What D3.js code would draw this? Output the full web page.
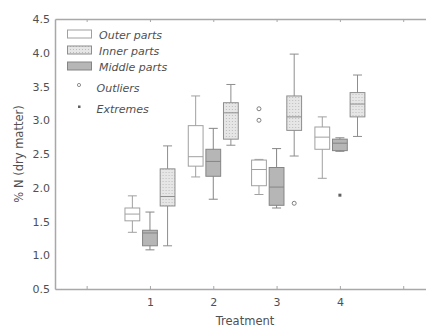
<!DOCTYPE html>
<html>
<head>
<meta charset="utf-8">
<script src="https://cdn.jsdelivr.net/npm/d3@7"></script>
<style>
  body { margin: 0; background: #fff; }
  svg { font-family: "DejaVu Sans", sans-serif; }
</style>
</head>
<body>
<div id="chart"></div>
<script>
// treatments and series
var treatments = [1, 2, 3, 4];
var seriesNames = ["Outer parts", "Middle parts", "Inner parts"];

// box stats per treatment: [whisker low, q1, median, q3, whisker high]
var outerStats = [
    [1.34, 1.51, 1.61, 1.70, 1.88],
    [2.16, 2.32, 2.46, 2.92, 3.36],
    [1.90, 2.03, 2.27, 2.41, 2.42],
    [2.14, 2.57, 2.75, 2.90, 3.05]
];
var middleStats = [
    [1.08, 1.14, 1.33, 1.37, 1.64],
    [1.83, 2.17, 2.39, 2.57, 2.88],
    [1.70, 1.74, 2.01, 2.30, 2.58],
    [2.54, 2.55, 2.66, 2.72, 2.74]
];
var innerStats = [
    [1.14, 1.73, 1.87, 2.28, 2.62],
    [2.63, 2.72, 3.11, 3.26, 3.53],
    [2.47, 2.85, 3.05, 3.36, 3.98],
    [2.76, 3.05, 3.24, 3.41, 3.67]
];

// outliers (open circles) and extremes (filled squares): [treatment, series, value]
var outliers = [[3, "Outer parts", 3.17], [3, "Outer parts", 3.00], [3, "Inner parts", 1.77]];
var extremes = [[4, "Middle parts", 1.89]];

var yTicks = [0.5, 1.0, 1.5, 2.0, 2.5, 3.0, 3.5, 4.0, 4.5];
var xTicks = [0, 1, 2, 3, 4, 5];

var width = 426, height = 328;
var svg = d3.select("#chart").append("svg")
    .attr("width", width)
    .attr("height", height);

var defs = svg.append("defs");
var pat = defs.append("pattern")
    .attr("id", "dots")
    .attr("width", 3).attr("height", 3)
    .attr("patternUnits", "userSpaceOnUse");
pat.append("rect").attr("width", 3).attr("height", 3).attr("fill", "#e6e6e6");
pat.append("rect").attr("x", 1).attr("y", 1).attr("width", 1).attr("height", 1).attr("fill", "#bcbcbc");

var x = d3.scaleLinear().domain([-0.5, 5.36]).range([55, 426]);
var y = d3.scaleLinear().domain([0.5, 4.5]).range([289, 19]);
var sub = d3.scaleBand().domain(seriesNames).range([-25, 25]).paddingInner(0.16);

var fills = { "Outer parts": "#fff", "Middle parts": "#b6b6b6", "Inner parts": "url(#dots)" };
var strokes = { "Outer parts": "#a0a0a0", "Middle parts": "#858585", "Inner parts": "#8e8e8e" };
var statsBySeries = { "Outer parts": outerStats, "Middle parts": middleStats, "Inner parts": innerStats };

var axisColor = "#a8a8a8";
var textColor = "#505050";

// axes
var bottomAxis = svg.append("g")
    .attr("transform", "translate(0," + y(0.5) + ")")
    .call(d3.axisBottom(x).tickValues(xTicks).tickSizeInner(-3).tickSizeOuter(0)
        .tickPadding(9)
        .tickFormat(function(d) { return d >= 1 && d <= 4 ? d : ""; }));
var topAxis = svg.append("g")
    .attr("transform", "translate(0," + y(4.5) + ")")
    .call(d3.axisTop(x).tickValues(xTicks).tickSizeInner(-3).tickSizeOuter(0).tickFormat(""));
var leftAxis = svg.append("g")
    .attr("transform", "translate(" + x(-0.5) + ",0)")
    .call(d3.axisLeft(y).tickValues(yTicks).tickSizeInner(0).tickSizeOuter(0)
        .tickPadding(5)
        .tickFormat(d3.format(".1f")));

[bottomAxis, topAxis, leftAxis].forEach(function(a) {
    a.select(".domain").attr("stroke", axisColor).attr("stroke-width", 1.5);
    a.selectAll(".tick line").attr("stroke", axisColor);
    a.selectAll(".tick text").attr("fill", textColor)
        .style("font-family", "DejaVu Sans, sans-serif").style("font-size", "11px");
});

// boxes
var boxW = sub.bandwidth();
var capW = 9;

seriesNames.forEach(function(name) {
    var stats = statsBySeries[name];
    var g = svg.append("g").attr("class", "series");
    var item = g.selectAll("g.box")
        .data(treatments.map(function(t, i) { return { t: t, s: stats[i] }; }))
        .enter().append("g")
        .attr("class", "box")
        .attr("transform", function(d) {
            return "translate(" + (x(d.t) + sub(name) + boxW / 2) + ",0)";
        });

    item.append("line")
        .attr("x1", 0).attr("x2", 0)
        .attr("y1", function(d) { return y(d.s[4]); })
        .attr("y2", function(d) { return y(d.s[0]); })
        .attr("stroke", strokes[name]);
    item.append("line")
        .attr("x1", -capW / 2).attr("x2", capW / 2)
        .attr("y1", function(d) { return y(d.s[4]); })
        .attr("y2", function(d) { return y(d.s[4]); })
        .attr("stroke", strokes[name]);
    item.append("line")
        .attr("x1", -capW / 2).attr("x2", capW / 2)
        .attr("y1", function(d) { return y(d.s[0]); })
        .attr("y2", function(d) { return y(d.s[0]); })
        .attr("stroke", strokes[name]);
    item.append("rect")
        .attr("x", -boxW / 2)
        .attr("width", boxW)
        .attr("y", function(d) { return y(d.s[3]); })
        .attr("height", function(d) { return y(d.s[1]) - y(d.s[3]); })
        .attr("fill", fills[name])
        .attr("stroke", strokes[name]);
    item.append("line")
        .attr("x1", -boxW / 2).attr("x2", boxW / 2)
        .attr("y1", function(d) { return y(d.s[2]); })
        .attr("y2", function(d) { return y(d.s[2]); })
        .attr("stroke", strokes[name]);
});

// outliers and extremes
svg.selectAll("circle.outlier")
    .data(outliers)
    .enter().append("circle")
    .attr("class", "outlier")
    .attr("cx", function(d) { return x(d[0]) + sub(d[1]) + boxW / 2; })
    .attr("cy", function(d) { return y(d[2]); })
    .attr("r", 2)
    .attr("fill", "#fff")
    .attr("stroke", "#808080");

svg.selectAll("rect.extreme")
    .data(extremes)
    .enter().append("rect")
    .attr("class", "extreme")
    .attr("x", function(d) { return x(d[0]) + sub(d[1]) + boxW / 2 - 1.5; })
    .attr("y", function(d) { return y(d[2]) - 1.5; })
    .attr("width", 3).attr("height", 3)
    .attr("fill", "#606060");

// legend
var legendRows = [
    { label: "Outer parts", kind: "Outer parts", y: 34 },
    { label: "Inner parts", kind: "Inner parts", y: 50 },
    { label: "Middle parts", kind: "Middle parts", y: 66 },
    { label: "Outliers", kind: "outlier", y: 87 },
    { label: "Extremes", kind: "extreme", y: 108 }
];
var leg = svg.append("g").attr("class", "legend");
legendRows.forEach(function(r) {
    if (fills[r.kind]) {
        leg.append("rect")
            .attr("x", 67.5).attr("y", r.y - 4)
            .attr("width", 24).attr("height", 8)
            .attr("fill", fills[r.kind])
            .attr("stroke", strokes[r.kind]);
    } else if (r.kind === "outlier") {
        leg.append("circle").attr("cx", 79).attr("cy", r.y - 2)
            .attr("r", 1.6).attr("fill", "#fff").attr("stroke", "#909090");
    } else {
        leg.append("rect").attr("x", 78).attr("y", r.y - 2.5)
            .attr("width", 2.5).attr("height", 2.5).attr("fill", "#606060");
    }
    leg.append("text")
        .attr("x", r.kind === "outlier" || r.kind === "extreme" ? 96.5 : 99)
        .attr("y", r.y + 5)
        .attr("font-style", "italic")
        .attr("font-size", "11px")
        .attr("fill", textColor)
        .text(r.label);
});

// axis titles
svg.append("text")
    .attr("x", 245).attr("y", 325)
    .attr("text-anchor", "middle")
    .attr("font-size", "11.5px")
    .attr("fill", textColor)
    .text("Treatment");

svg.append("text")
    .attr("transform", "translate(23," + 154 + ") rotate(-90)")
    .attr("text-anchor", "middle")
    .attr("font-size", "11.5px")
    .attr("fill", textColor)
    .text("% N (dry matter)");
</script>
</body>
</html>
